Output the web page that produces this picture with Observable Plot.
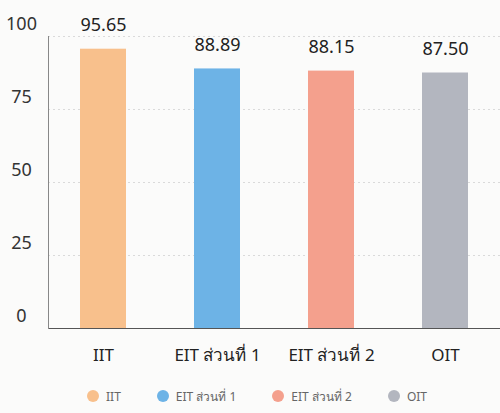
<!DOCTYPE html>
<html><head><meta charset="utf-8">
<script src="https://cdn.jsdelivr.net/npm/d3@7"></script>
<script src="https://cdn.jsdelivr.net/npm/@observablehq/plot@0.6"></script>
<style>
body{margin:0;background:#fbfbfa;font-family:"Noto Sans","DejaVu Sans",sans-serif;}
#legend{display:flex;justify-content:center;gap:36px;font-size:12px;color:#666;height:33px;align-items:center;margin-left:14px}
#legend span.sw{display:inline-block;width:12px;height:12px;border-radius:50%;margin-right:7px;vertical-align:-1px}
</style></head>
<body><div id="chart"></div><div id="legend"></div>
<script>
const categories = ["IIT", "EIT ส่วนที่ 1", "EIT ส่วนที่ 2", "OIT"];
const values = [95.65, 88.89, 88.15, 87.50];
const colors = ["#f8c08c", "#6db3e6", "#f4a08d", "#b3b6bf"];
const yTicks = [0, 25, 50, 75, 100];

const data = categories.map((c, i) => ({cat: c, value: values[i]}));

const plot = Plot.plot({
  width: 500, height: 380,
  marginLeft: 48, marginRight: 0, marginTop: 36, marginBottom: 52,
  style: {fontFamily: '"Noto Sans","DejaVu Sans",sans-serif', background: "transparent", color: "#333"},
  x: {domain: categories, paddingInner: 0.6, paddingOuter: 0.28, label: null},
  y: {domain: [0, 100], label: null},
  color: {domain: categories, range: colors},
  marks: [
    Plot.gridY(yTicks, {stroke: "#ccc", strokeOpacity: 0.7, strokeDasharray: "2,3"}),
    Plot.barY(data, {x: "cat", y: "value", fill: "cat"}),
    Plot.text(data, {x: "cat", y: "value", text: d => d.value.toFixed(2), dy: -24, fontSize: 18, fill: "#222"}),
    Plot.axisY(yTicks, {tickSize: 0, textAnchor: "middle", dx: -18, dy: -12, fontSize: 18, fill: "#333"}),
    Plot.axisX({tickSize: 0, tickPadding: 20, fontSize: 17, fill: "#222"}),
    Plot.ruleY([0], {stroke: "#555", strokeWidth: 1.2}),
    Plot.frame({anchor: "left", stroke: "#888"})
  ]
});
document.getElementById("chart").append(plot);

const lg = document.getElementById("legend");
categories.forEach((c, i) => {
  const d = document.createElement("div");
  d.innerHTML = `<span class="sw" style="background:${colors[i]}"></span>${c}`;
  lg.append(d);
});
</script></body></html>
